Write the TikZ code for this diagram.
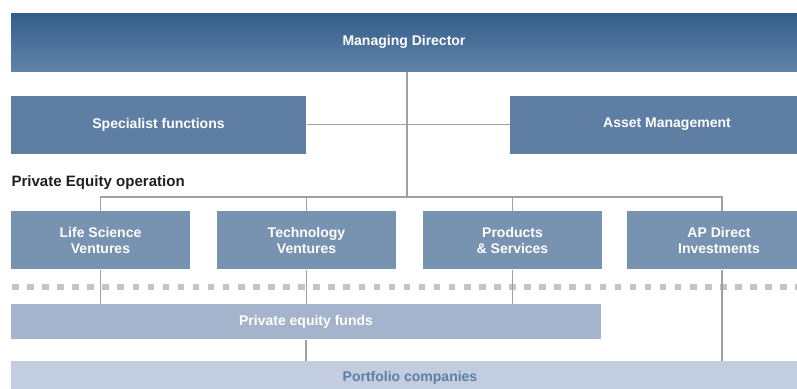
\documentclass[tikz,border=0pt]{standalone}
\usepackage{fontspec}
\setmainfont{Liberation Sans}

\definecolor{mdtop}{HTML}{335D88}
\definecolor{mdbot}{HTML}{6283AA}
\definecolor{staffblue}{HTML}{5E7EA3}
\definecolor{unitblue}{HTML}{7892B2}
\definecolor{fundblue}{HTML}{A3B4CC}
\definecolor{portblue}{HTML}{C2CDE0}
\definecolor{linkgray}{HTML}{A0A0A0}
\definecolor{dashgray}{HTML}{C4C4C4}
\definecolor{headblack}{HTML}{231F20}

\tikzset{every picture/.style={line width=0.75pt}}
\tikzset{
  orgbox/.style={rectangle, inner sep=0pt, align=center, text=white,
    font=\bfseries\fontsize{10.5}{12}\selectfont},
  unitbox/.style={orgbox, fill=unitblue, minimum width=134.25pt, minimum height=43.5pt},
  link/.style={draw=linkgray, line width=0.9pt},
}

\begin{document}
\begin{tikzpicture}[x=0.75pt,y=0.75pt,yscale=-1,xscale=1]
    \useasboundingbox (0,0) rectangle (797,389);
    \node [orgbox, top color=mdtop, bottom color=mdbot, minimum width=589.5pt, minimum height=43.5pt] (md) at (404,42) {Managing Director};
    \node [orgbox, fill=staffblue, minimum width=221.25pt, minimum height=43.5pt] (specialist) at (158.5,124.5) {Specialist functions};
    \node [orgbox, fill=staffblue, minimum width=235.5pt, minimum height=43.5pt] (asset) at (667,124.5) {Asset Management};
    \node [anchor=base west, inner sep=0pt, text=headblack, font=\bfseries\fontsize{11.3}{13}\selectfont] (peop) at (11,186) {Private Equity operation};

    \node [unitbox] (ls) at (100.5,240) {Life Science\\Ventures};
    \node [unitbox] (tech) at (306.5,240) {Technology\\Ventures};
    \node [unitbox] (prod) at (512.5,240) {Products\\\& Services};
    \node [unitbox, minimum width=138pt] (ap) at (719,240) {AP Direct\\Investments};

    \node [orgbox, fill=fundblue, minimum width=442.5pt, minimum height=26.25pt] (funds) at (306,321.5) {Private equity funds};
    \node [orgbox, fill=portblue, text=staffblue, minimum width=589.5pt, minimum height=27pt] (portfolio) at (404,379) {};
    \node [orgbox, text=staffblue] (portlabel) at (410,378) {Portfolio companies};

    \coordinate (bus) at (407,197);
    \coordinate (apbus) at (722,197);

    \draw [dashgray, line width=4.5pt, dash pattern=on 4.9pt off 6.4pt] (12,287) -- (797,287);

    \draw [link] (md.south -| bus) -- (bus);
    \draw [link] (specialist.east) -- (specialist.east -| asset.west);
    \draw [link] (ls.north) -- (ls.north |- bus) -- (apbus) -- (apbus |- ap.north);
    \draw [link] (tech.north) -- (tech.north |- bus);
    \draw [link] (prod.north) -- (prod.north |- bus);

    \draw [link] (ls.south) -- (ls.south |- funds.north);
    \draw [link] (tech.south) -- (tech.south |- funds.north);
    \draw [link] (prod.south) -- (prod.south |- funds.north);
    \draw [link] (apbus |- ap.south) -- (apbus |- portfolio.north);
    \draw [link] (funds.south) -- (funds.south |- portfolio.north);
\end{tikzpicture}
\end{document}
